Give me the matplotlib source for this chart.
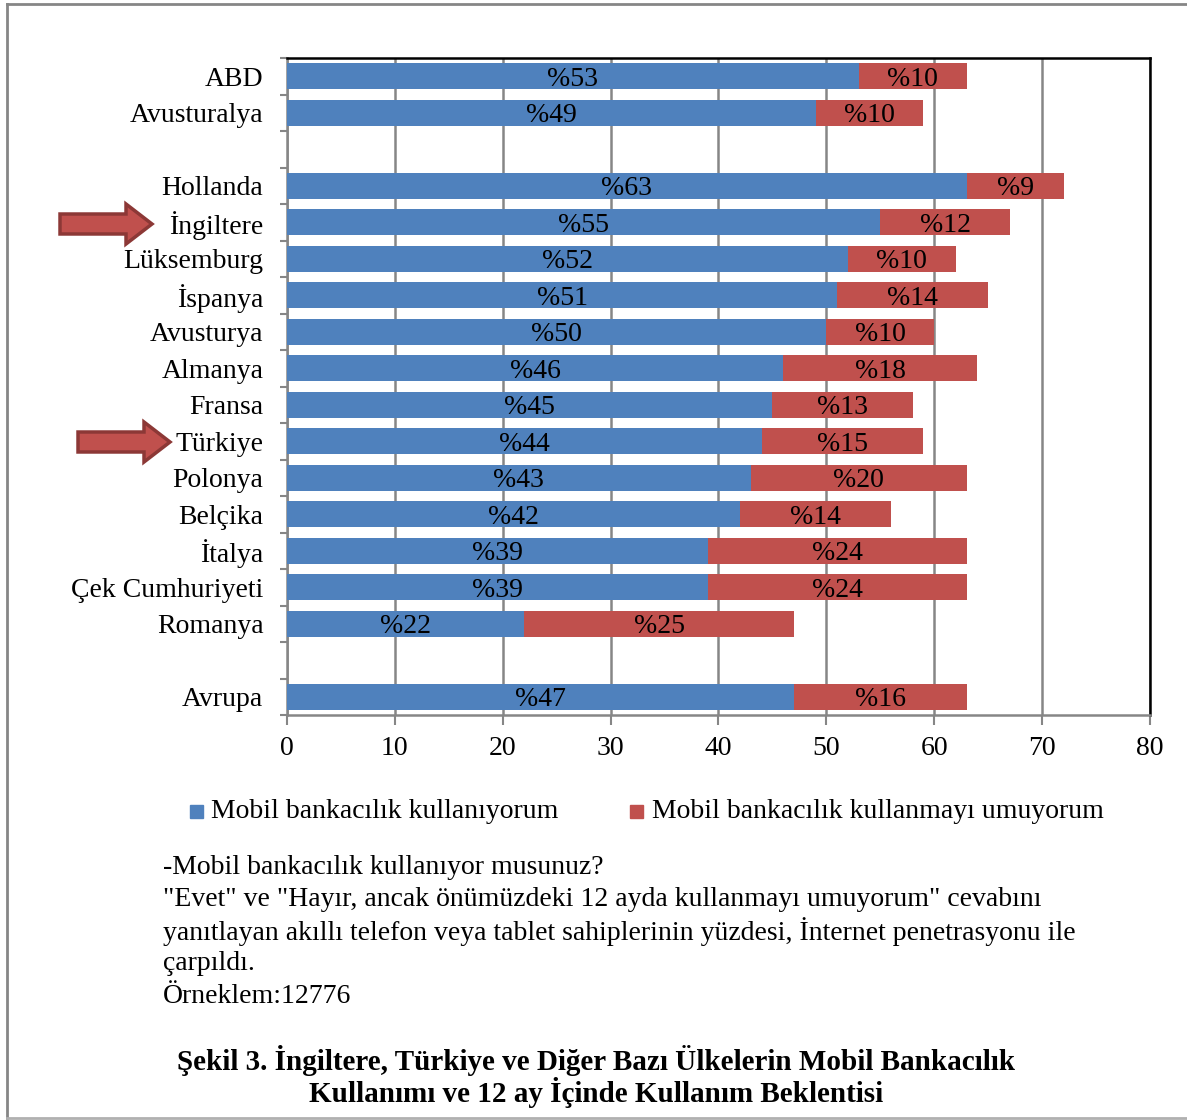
import matplotlib.pyplot as plt
from matplotlib.patches import FancyArrow, Rectangle
import numpy as np

plt.rcParams['font.family'] = ['Liberation Serif', 'DejaVu Serif']

# rows top to bottom, '' = empty spacer row
countries = ['ABD', 'Avusturalya', '', 'Hollanda', 'İngiltere', 'Lüksemburg', 'İspanya',
             'Avusturya', 'Almanya', 'Fransa', 'Türkiye', 'Polonya', 'Belçika', 'İtalya',
             'Çek Cumhuriyeti', 'Romanya', '', 'Avrupa']
kullanan = [53, 49, None, 63, 55, 52, 51, 50, 46, 45, 44, 43, 42, 39, 39, 22, None, 47]
umuyor = [10, 10, None, 9, 12, 10, 14, 10, 18, 13, 15, 20, 14, 24, 24, 25, None, 16]

mavi = '#4F81BD'
kirmizi = '#C0504D'
fs = 20

fig = plt.figure(figsize=(11.87, 11.2), dpi=100)
ax = fig.add_axes([0.2418, 0.3616, 0.727, 0.5866])

y = np.arange(len(countries))
for i, (a, b) in enumerate(zip(kullanan, umuyor)):
    if a is None:
        continue
    ax.barh(i, a, height=0.72, color=mavi, zorder=3)
    ax.barh(i, b, left=a, height=0.72, color=kirmizi, zorder=3)
    ax.text(a / 2, i, '%' + str(a), ha='center', va='center_baseline', fontsize=fs, zorder=4)
    ax.text(a + b / 2, i, '%' + str(b), ha='center', va='center_baseline', fontsize=fs, zorder=4)

ax.set_xlim(0, 80)
ax.set_ylim(len(countries) - 0.5, -0.5)
ax.set_xticks(np.arange(0, 81, 10))
ax.tick_params(axis='x', labelsize=fs, length=7, width=1.5, color='#868686', pad=8)
ax.set_yticks(y)
ax.set_yticklabels(countries, fontsize=fs)
ax.tick_params(axis='y', which='major', length=0, pad=17)
ax.set_yticks(np.arange(-0.5, len(countries)), minor=True)
ax.tick_params(axis='y', which='minor', length=5, width=1.5, color='#868686')
ax.xaxis.grid(True, color='#868686', linewidth=1.8, zorder=0)
ax.set_axisbelow(True)
for s in ['left', 'bottom']:
    ax.spines[s].set_color('#868686')
    ax.spines[s].set_linewidth(1.8)
for s in ['top', 'right']:
    ax.spines[s].set_color('black')
    ax.spines[s].set_linewidth(1.8)

# arrows pointing at İngiltere and Türkiye
def ok(x0, yc):
    x0f = x0 / 1187
    yf = 1 - yc / 1120
    fig.patches.append(FancyArrow(x0f, yf, 92 / 1187, 0, width=20 / 1120,
                                  head_width=40 / 1120, head_length=26 / 1187,
                                  length_includes_head=True, transform=fig.transFigure,
                                  facecolor=kirmizi, edgecolor='#8C3836', linewidth=2.5))

ok(60, 224)
ok(78, 442)

# legend
fig.patches.append(Rectangle((190 / 1187, 1 - 818 / 1120), 13 / 1187, 13 / 1120,
                             transform=fig.transFigure, color=mavi))
fig.text(211 / 1187, 1 - 811 / 1120, 'Mobil bankacılık kullanıyorum', fontsize=fs, va='center')
fig.patches.append(Rectangle((630 / 1187, 1 - 818 / 1120), 13 / 1187, 13 / 1120,
                             transform=fig.transFigure, color=kirmizi))
fig.text(652 / 1187, 1 - 811 / 1120, 'Mobil bankacılık kullanmayı umuyorum', fontsize=fs, va='center')

notlar = ['-Mobil bankacılık kullanıyor musunuz?',
          '"Evet" ve "Hayır, ancak önümüzdeki 12 ayda kullanmayı umuyorum" cevabını',
          'yanıtlayan akıllı telefon veya tablet sahiplerinin yüzdesi, İnternet penetrasyonu ile',
          'çarpıldı.',
          'Örneklem:12776']
for k, satir in enumerate(notlar):
    fig.text(163 / 1187, 1 - (867 + 32.3 * k) / 1120, satir, fontsize=fs, va='center')

fig.text(596 / 1187, 1 - 1060 / 1120,
         'Şekil 3. İngiltere, Türkiye ve Diğer Bazı Ülkelerin Mobil Bankacılık',
         fontsize=21, fontweight='bold', ha='center', va='center')
fig.text(596 / 1187, 1 - 1093 / 1120,
         'Kullanımı ve 12 ay İçinde Kullanım Beklentisi',
         fontsize=21, fontweight='bold', ha='center', va='center')

# outer frame
fig.add_artist(plt.Line2D([6.5 / 1187, 6.5 / 1187], [1 - 1118 / 1120, 1 - 4 / 1120],
                          transform=fig.transFigure, color='#868686', linewidth=2))
fig.add_artist(plt.Line2D([6.5 / 1187, 1], [1 - 4 / 1120, 1 - 4 / 1120],
                          transform=fig.transFigure, color='#868686', linewidth=2))
fig.add_artist(plt.Line2D([6.5 / 1187, 1], [1 - 1118 / 1120, 1 - 1118 / 1120],
                          transform=fig.transFigure, color='#B0B0B0', linewidth=2))

fig.savefig('out.png', dpi=100)
